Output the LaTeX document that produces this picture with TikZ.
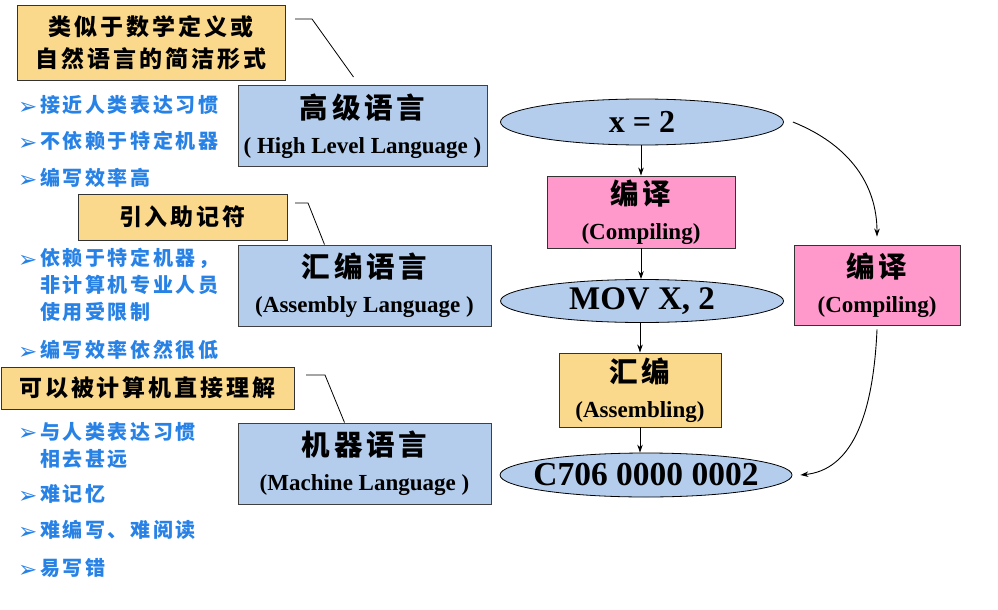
\documentclass[tikz,border=0pt]{standalone}
\usepackage{fontspec}
\usepackage{xcolor}
\usepackage{tikz}
\usetikzlibrary{shapes.geometric,arrows.meta}
\setmainfont{Liberation Serif}
\newfontfamily\cjk[LetterSpace=13]{Noto Sans CJK SC}
\newfontfamily\symb{DejaVu Sans}

\definecolor{langblue}{RGB}{180,205,236}
\definecolor{notebg}{RGB}{250,217,140}
\definecolor{procpink}{RGB}{255,153,204}
\definecolor{itemblue}{RGB}{40,130,230}

\newcommand\bul{\makebox[22pt][l]{\raisebox{-1.5pt}{\symb\fontsize{23}{23}\selectfont ➢}}}
\newcommand\ind{\hspace*{22pt}}

\tikzset{
  lang/.style={draw=black!75, line width=1pt, fill=langblue, inner sep=0pt,
    minimum height=81pt, align=center, font=\bfseries\fontsize{23}{35}\selectfont},
  note/.style={draw=black!80, line width=1pt, fill=notebg, inner sep=0pt,
    align=center, font=\cjk\bfseries\fontsize{23}{32}\selectfont},
  item/.style={anchor=west, inner sep=0pt, align=left, text=itemblue,
    font=\cjk\bfseries\fontsize{20}{27}\selectfont},
  code/.style={ellipse, draw, line width=0.8pt, fill=langblue, inner sep=0pt,
    minimum width=283pt, minimum height=46pt},
  proc/.style={draw=black!80, line width=0.9pt, inner sep=0pt, align=center,
    font=\bfseries\fontsize{23}{35}\selectfont},
  callout/.style={line width=0.8pt},
  flow/.style={-{Stealth[length=8pt,width=5.5pt]}, line width=0.9pt},
}

\begin{document}
\begin{tikzpicture}[x=1pt,y=-1pt]
    \useasboundingbox (0,0) rectangle (998,610);

    % language levels
    \node[lang, minimum width=249pt] (high) at (362.5,126)
        {{\cjk\fontsize{28.5}{28.5}\selectfont 高级语言}\\( High Level Language )};
    \node[lang, minimum width=253pt] (asm) at (364.5,285.5)
        {{\cjk\fontsize{28.5}{28.5}\selectfont 汇编语言}\\(Assembly Language )};
    \node[lang, minimum width=253pt] (mach) at (364.5,463.5)
        {{\cjk\fontsize{28.5}{28.5}\selectfont 机器语言}\\(Machine Language )};

    % notes
    \node[note, minimum width=268pt, minimum height=74pt] (note1) at (151,43)
        {类似于数学定义或\\自然语言的简洁形式};
    \node[note, minimum width=209pt, minimum height=46pt] (note2) at (182.5,217) {引入助记符};
    \node[note, minimum width=293pt, minimum height=42pt] (note3) at (147.5,388) {可以被计算机直接理解};

    \coordinate (c1) at (295,19);
    \coordinate (c2) at (295,203);
    \coordinate (c3) at (306,375);
    \draw[callout] (c1) -- ++(17,0) -- ([xshift=116pt,yshift=8pt]high.north west);
    \draw[callout] (c2) -- ++(13,0) -- ([xshift=87pt]asm.north west);
    \draw[callout] (c3) -- ++(19,0) -- ([xshift=107pt]mach.north west);

    % features
    \node[item] (h1) at (18,105) {\bul 接近人类表达习惯};
    \node[item] (h2) at (18,141) {\bul 不依赖于特定机器};
    \node[item] (h3) at (18,178) {\bul 编写效率高};
    \node[item] (a1) at (18,285) {\bul 依赖于特定机器，\\\ind 非计算机专业人员\\\ind 使用受限制};
    \node[item] (a2) at (18,350) {\bul 编写效率依然很低};
    \node[item] (m1) at (18,445) {\bul 与人类表达习惯\\\ind 相去甚远};
    \node[item] (m2) at (18,494) {\bul 难记忆};
    \node[item] (m3) at (18,530) {\bul 难编写、难阅读};
    \node[item] (m4) at (18,568) {\bul 易写错};

    % translation chain
    \node[code, font=\bfseries\fontsize{32}{32}\selectfont] (src) at (642,122) {x = 2};
    \node[proc, fill=procpink, minimum width=188pt, minimum height=72pt] (comp) at (641,212)
        {{\cjk\fontsize{28.5}{28.5}\selectfont 编译}\\(Compiling)};
    \node[code, minimum height=43pt, font=\bfseries\fontsize{33}{33}\selectfont] (mov) at (642,301) {MOV X, 2};
    \node[proc, fill=notebg, minimum width=162pt, minimum height=74pt] (assm) at (640,390)
        {{\cjk\fontsize{28.5}{28.5}\selectfont 汇编}\\(Assembling)};
    \node[code, minimum width=292pt, minimum height=44pt, font=\bfseries\fontsize{33.5}{33.5}\selectfont] (bin) at (646,475)
        {\makebox[180pt]{C706 0000 0002}};
    \node[proc, fill=procpink, minimum width=166pt, minimum height=80pt] (comp2) at (877,285)
        {{\cjk\fontsize{28.5}{28.5}\selectfont 编译}\\(Compiling)};

    \draw[flow] (src.south -| comp.north) -- (comp.north);
    \draw[flow] (comp.south) -- (comp.south |- mov.north);
    \draw[flow] (mov.south -| assm.north) -- (assm.north);
    \draw[flow] (assm.south) -- (assm.south |- bin.north);
    \draw[flow] ([xshift=9pt]src.east) .. controls (850,145) and (877,185) .. ([yshift=8pt]comp2.north);
    \draw[flow] ([yshift=-4pt]comp2.south) .. controls (873,420) and (850,470) .. ([xshift=8pt]bin.east);
\end{tikzpicture}
\end{document}
